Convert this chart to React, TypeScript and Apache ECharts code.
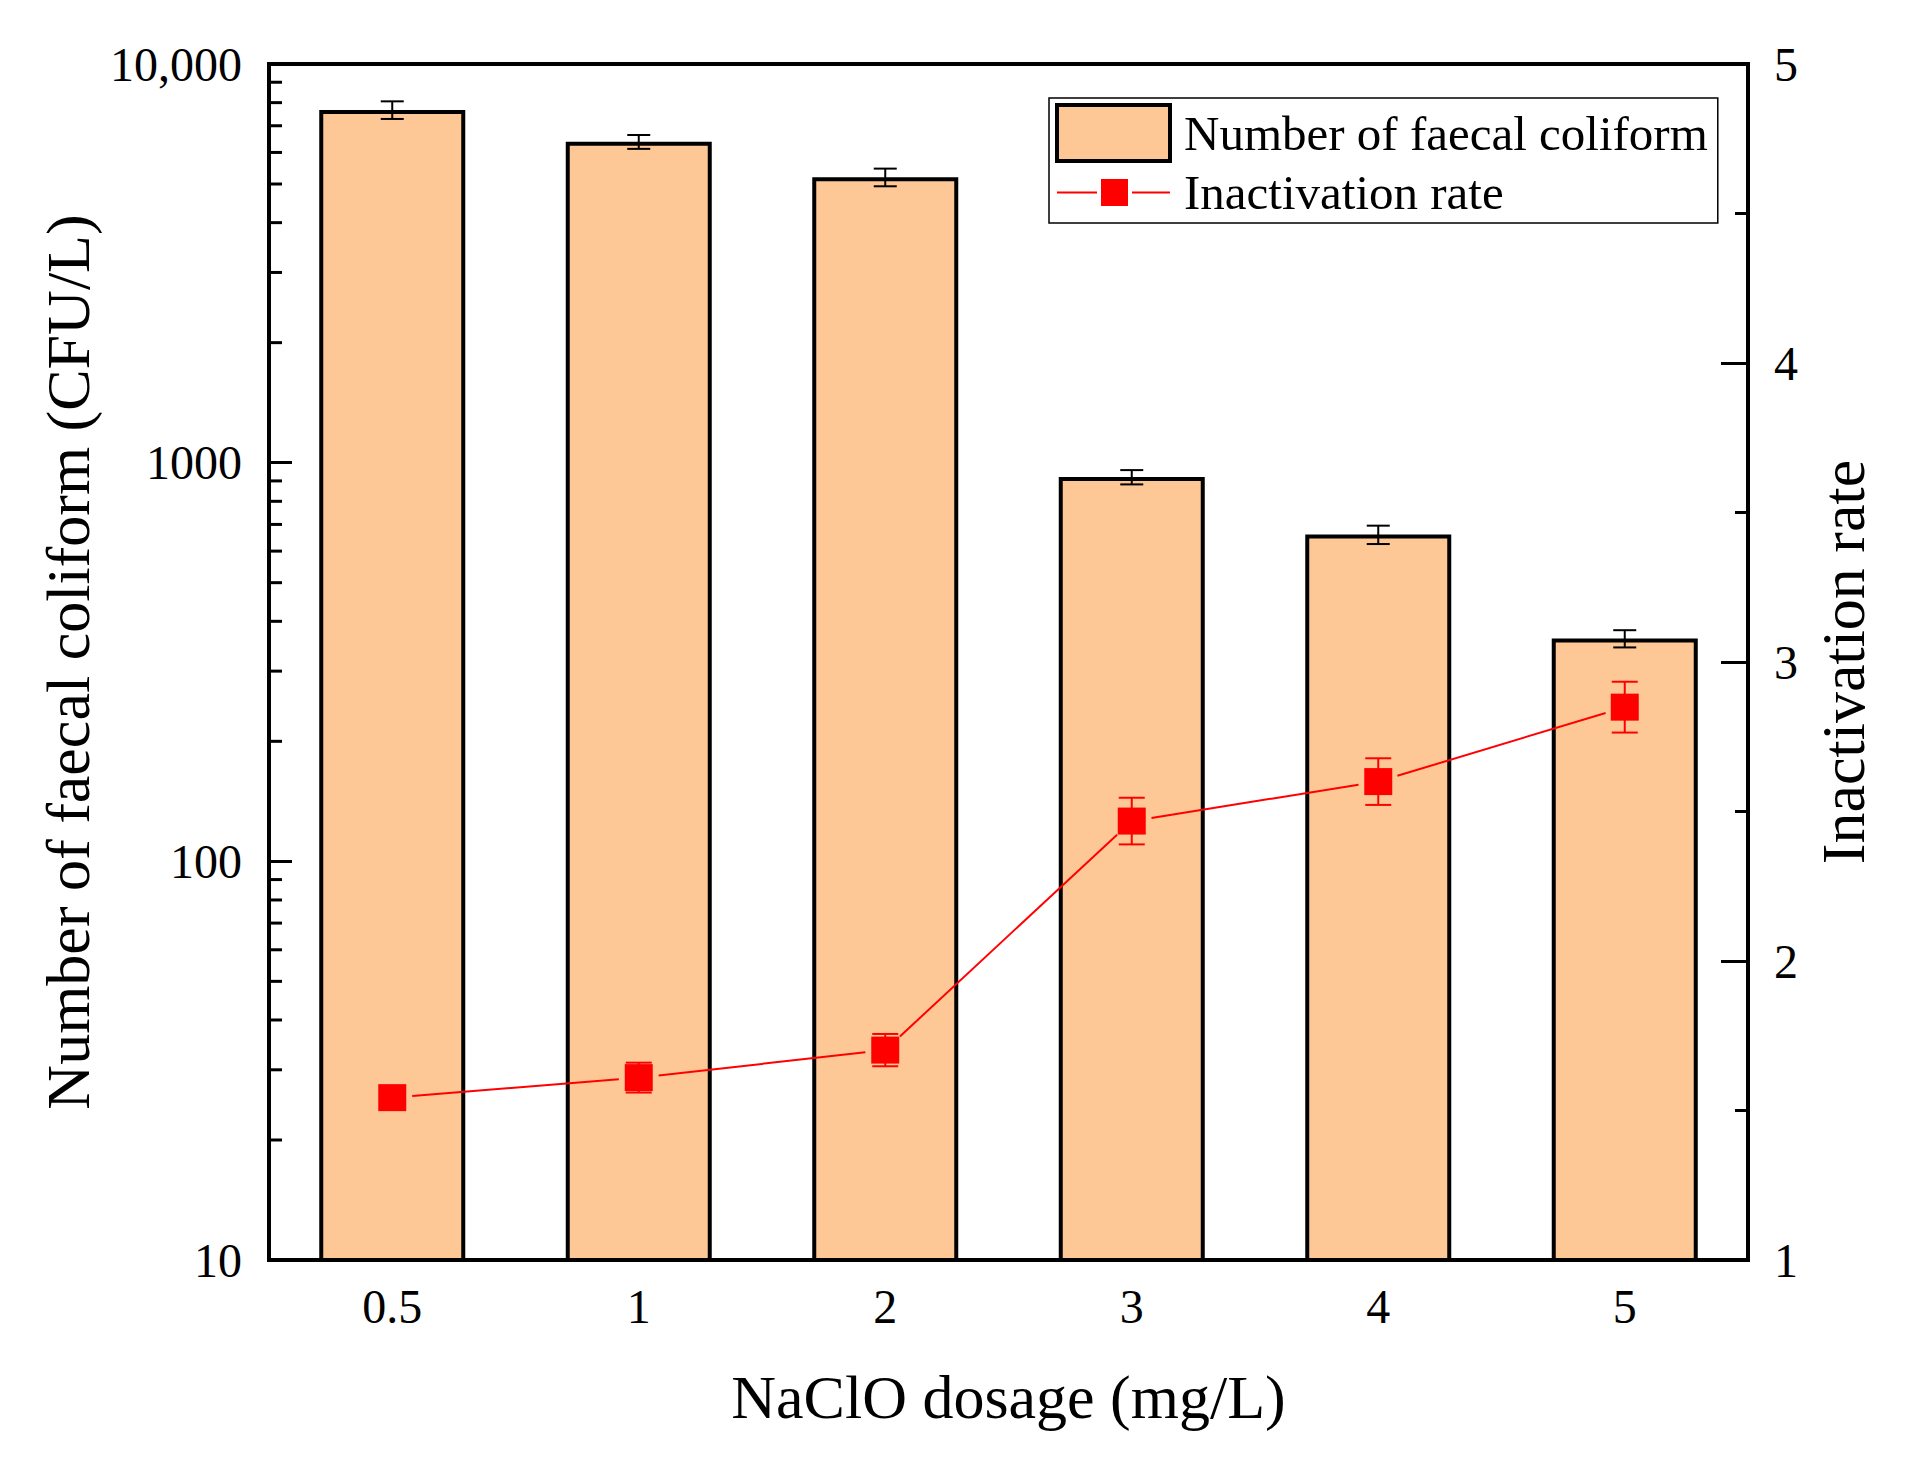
import React, { useEffect, useRef } from 'react';
import * as echarts from 'echarts';

// ---- data ----
const dosages = ['0.5', '1', '2', '3', '4', '5'];
const coliformCounts = [7670, 6380, 5200, 920, 660, 362];
const coliformErrors = [390, 255, 265, 38, 35, 18];
const inactivationRates = [1.543, 1.61, 1.702, 2.468, 2.6, 2.849];
const inactivationErrors = [0.03, 0.05, 0.054, 0.078, 0.078, 0.085];
const leftMinorTickValues = [
  20, 30, 40, 50, 60, 70, 80, 90,
  200, 300, 400, 500, 600, 700, 800, 900,
  2000, 3000, 4000, 5000, 6000, 7000, 8000, 9000,
];
const leftTickLabels: Record<number, string> = { 10: '10', 100: '100', 1000: '1000', 10000: '10,000' };

const FONT = "'Liberation Serif', 'Times New Roman', serif";
const BAR_COLOR = '#FEC896';
const RED = '#FF0000';

export default function App() {
  const ref = useRef<HTMLDivElement>(null);

  useEffect(() => {
    document.body.style.margin = '0';
    const chart = echarts.init(ref.current!, undefined, { renderer: 'svg' });

    const errorBarRender = (color: string, halfCap: number, width: number) =>
      (params: any, api: any) => {
        const i = api.value(0);
        const v = api.value(1);
        const e = api.value(2);
        const top = api.coord([i, v + e]);
        const bot = api.coord([i, v - e]);
        const style = { stroke: color, lineWidth: width };
        return {
          type: 'group',
          children: [
            { type: 'line', shape: { x1: top[0], y1: top[1], x2: bot[0], y2: bot[1] }, style },
            { type: 'line', shape: { x1: top[0] - halfCap, y1: top[1], x2: top[0] + halfCap, y2: top[1] }, style },
            { type: 'line', shape: { x1: bot[0] - halfCap, y1: bot[1], x2: bot[0] + halfCap, y2: bot[1] }, style },
          ],
        };
      };

    const option: any = {
      animation: false,
      backgroundColor: '#fff',
      grid: {
        left: 269,
        top: 64,
        width: 1479,
        height: 1196,
        show: true,
        borderColor: '#000',
        borderWidth: 4,
        backgroundColor: 'transparent',
        containLabel: false,
        outerBoundsMode: 'none',
      },
      legend: {
        orient: 'vertical',
        left: 1049,
        top: 98,
        padding: [5, 10, 6, 6],
        itemGap: 5,
        itemWidth: 113,
        itemHeight: 56,
        borderColor: '#000',
        borderWidth: 1.5,
        selectedMode: false,
        textStyle: { fontFamily: FONT, fontSize: 49, color: '#000', padding: [0, 0, 0, 9] },
        data: [
          {
            name: 'Number of faecal coliform',
            icon: 'rect',
            itemStyle: { color: BAR_COLOR, borderColor: '#000', borderWidth: 4 },
          },
          {
            name: 'Inactivation rate',
            icon: 'path://M0,12.5H40V14.5H0Z M44,0H71V27H44Z M75,12.5H113V14.5H75Z',
            itemStyle: { color: RED, borderWidth: 0 },
          },
        ],
      },
      xAxis: {
        type: 'category',
        data: dosages,
        boundaryGap: true,
        name: 'NaClO dosage (mg/L)',
        nameLocation: 'middle',
        nameGap: 106,
        nameTextStyle: { fontFamily: FONT, fontSize: 62, color: '#000' },
        axisLine: { show: true, lineStyle: { color: '#000', width: 4 } },
        axisTick: { show: false },
        axisLabel: { fontFamily: FONT, fontSize: 48, color: '#000', margin: 22 },
        splitLine: { show: false },
      },
      yAxis: [
        {
          type: 'log',
          logBase: 10,
          min: 10,
          max: 10000,
          position: 'left',
          name: 'Number of faecal coliform (CFU/L)',
          nameLocation: 'middle',
          nameGap: 163,
          nameTextStyle: { fontFamily: FONT, fontSize: 62, color: '#000' },
          axisLine: { show: true, lineStyle: { color: '#000', width: 4 } },
          axisTick: { show: true, inside: true, length: 23, lineStyle: { color: '#000', width: 3 } },
          axisLabel: {
            fontFamily: FONT,
            fontSize: 48,
            color: '#000',
            margin: 27,
            formatter: (v: number) => leftTickLabels[Math.round(v)] ?? String(v),
          },
          splitLine: { show: false },
        },
        {
          type: 'value',
          min: 1,
          max: 5,
          interval: 1,
          position: 'right',
          name: 'Inactivation rate',
          nameLocation: 'middle',
          nameGap: 64,
          nameTextStyle: { fontFamily: FONT, fontSize: 62, color: '#000' },
          axisLine: { show: true, lineStyle: { color: '#000', width: 4 } },
          axisTick: { show: true, inside: true, length: 27, lineStyle: { color: '#000', width: 3 } },
          minorTick: { show: true, splitNumber: 2, length: 13, lineStyle: { color: '#000', width: 3 } },
          axisLabel: { fontFamily: FONT, fontSize: 48, color: '#000', margin: 26 },
          splitLine: { show: false },
          minorSplitLine: { show: false },
        },
      ],
      series: [
        {
          name: 'Number of faecal coliform',
          type: 'bar',
          xAxisIndex: 0,
          yAxisIndex: 0,
          barWidth: 146,
          data: coliformCounts,
          itemStyle: { color: BAR_COLOR, borderColor: '#000', borderWidth: 4 },
          z: 2,
        },
        {
          name: 'coliform-error',
          type: 'custom',
          xAxisIndex: 0,
          yAxisIndex: 0,
          z: 3,
          encode: { x: 0, y: 1 },
          data: dosages.map((_, i) => [i, coliformCounts[i], coliformErrors[i]]),
          renderItem: errorBarRender('#000', 11.5, 2),
        },
        {
          name: 'left-minor-ticks',
          type: 'custom',
          xAxisIndex: 0,
          yAxisIndex: 0,
          z: 3,
          clip: false,
          encode: { x: 0, y: 1 },
          data: leftMinorTickValues.map((v) => [0, v]),
          renderItem: (params: any, api: any) => {
            const y = api.coord([0, api.value(1)])[1];
            const x = params.coordSys.x;
            return {
              type: 'line',
              shape: { x1: x, y1: y, x2: x + 13, y2: y },
              style: { stroke: '#000', lineWidth: 3 },
            };
          },
        },
        {
          name: 'rate-line',
          type: 'custom',
          xAxisIndex: 0,
          yAxisIndex: 1,
          z: 4,
          encode: { x: 0, y: 1 },
          data: dosages.map((_, i) => [i, inactivationRates[i], inactivationRates[i > 0 ? i - 1 : 0]]),
          renderItem: (params: any, api: any) => {
            const i = api.value(0);
            if (i === 0) return { type: 'group', children: [] };
            const p1 = api.coord([i, api.value(1)]);
            const p0 = api.coord([i - 1, api.value(2)]);
            const dx = p1[0] - p0[0];
            const dy = p1[1] - p0[1];
            const len = Math.sqrt(dx * dx + dy * dy);
            const gap = 20;
            const ux = dx / len;
            const uy = dy / len;
            return {
              type: 'line',
              shape: {
                x1: p0[0] + ux * gap,
                y1: p0[1] + uy * gap,
                x2: p1[0] - ux * gap,
                y2: p1[1] - uy * gap,
              },
              style: { stroke: RED, lineWidth: 2 },
            };
          },
        },
        {
          name: 'rate-error',
          type: 'custom',
          xAxisIndex: 0,
          yAxisIndex: 1,
          z: 4,
          encode: { x: 0, y: 1 },
          data: dosages.map((_, i) => [i, inactivationRates[i], inactivationErrors[i]]),
          renderItem: errorBarRender(RED, 13, 2),
        },
        {
          name: 'Inactivation rate',
          type: 'scatter',
          xAxisIndex: 0,
          yAxisIndex: 1,
          z: 5,
          symbol: 'rect',
          symbolSize: [28, 27],
          data: inactivationRates,
          itemStyle: { color: RED, opacity: 1 },
        },
      ],
    };

    chart.setOption(option);
    return () => chart.dispose();
  }, []);

  return <div ref={ref} style={{ width: 1908, height: 1460 }} />;
}
